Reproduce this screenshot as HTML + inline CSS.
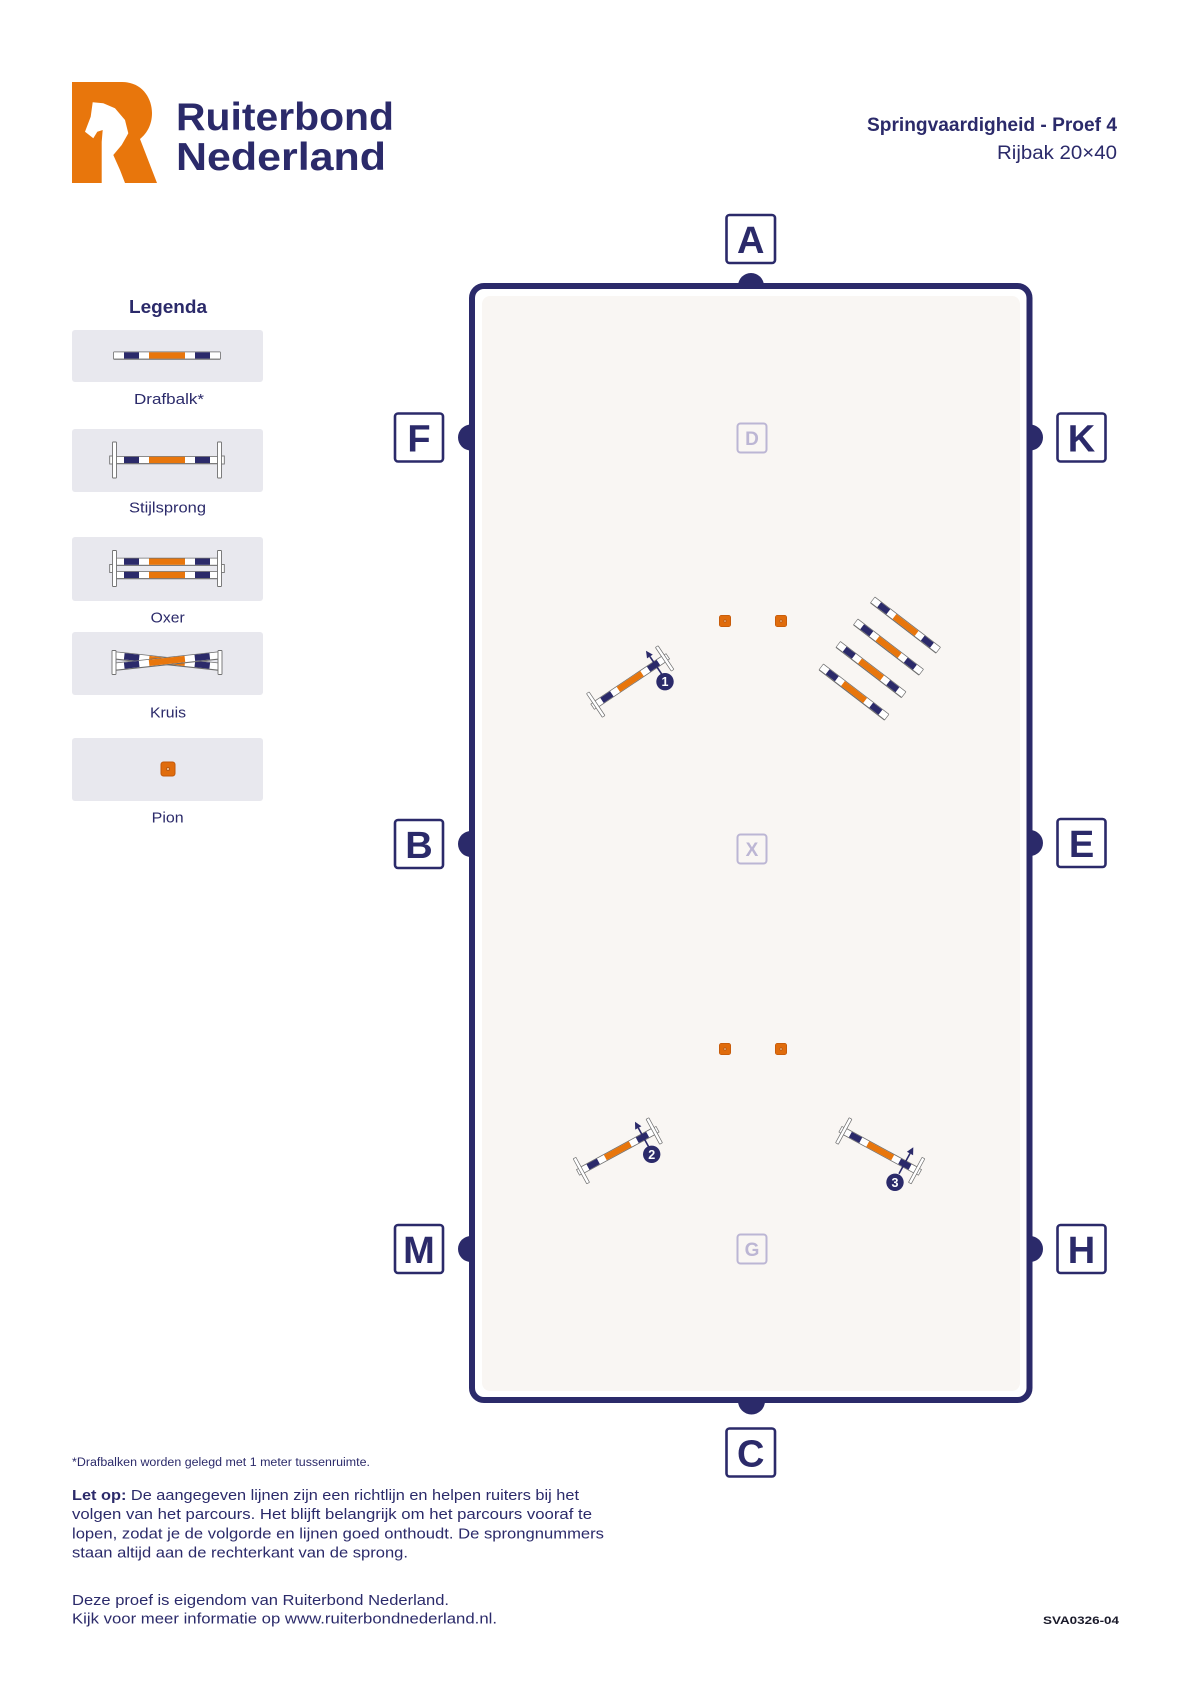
<!DOCTYPE html>
<html><head><meta charset="utf-8">
<style>
html,body{margin:0;padding:0;background:#fff;}
svg{display:block;}
text{font-family:"Liberation Sans",sans-serif;}
</style></head>
<body>
<svg width="1191" height="1684" viewBox="0 0 1191 1684" xmlns="http://www.w3.org/2000/svg">
<defs>
 <g id="pole">
  <rect x="-53.8" y="-4" width="107.6" height="8.2" rx="1" fill="#6d6d6d"/>
  <rect x="-53" y="-3.2" width="106" height="6.3" fill="#fff"/>
  <rect x="-43" y="-3.2" width="15" height="6.3" fill="#2b2a6a"/>
  <rect x="-18" y="-3.2" width="36" height="6.3" fill="#e8760c"/>
  <rect x="28" y="-3.2" width="15" height="6.3" fill="#2b2a6a"/>
 </g>
 <g id="jpole">
  <rect x="-54" y="-4.9" width="108" height="9.8" rx="1" fill="#6d6d6d"/>
  <rect x="-53" y="-3.9" width="106" height="7.8" fill="#fff"/>
  <rect x="-43" y="-3.9" width="15" height="7.8" fill="#2b2a6a"/>
  <rect x="-18" y="-3.9" width="36" height="7.8" fill="#e8760c"/>
  <rect x="28" y="-3.9" width="15" height="7.8" fill="#2b2a6a"/>
 </g>
 <g id="std">
  <rect x="-2" y="-18" width="4" height="36" rx="0.6" fill="#fff" stroke="#707070" stroke-width="0.9"/>
 </g>
 <g id="foot">
  <rect x="-1.8" y="-4" width="3.6" height="8" fill="#fff" stroke="#707070" stroke-width="0.9"/>
 </g>
 <g id="stijl">
  <use href="#jpole"/>
  <use href="#foot" x="-55.5"/>
  <use href="#foot" x="55.5"/>
  <use href="#std" x="-52.5"/>
  <use href="#std" x="52.5"/>
 </g>
 <g id="pion">
  <rect x="-5.6" y="-5.6" width="11.2" height="11.2" rx="2" fill="#e06c0c" stroke="#c2590a" stroke-width="0.8"/>
  <circle r="1.6" fill="#b95a12"/>
  <circle r="0.8" fill="#f8d2ac"/>
 </g>
</defs>

<!-- LOGO -->
<path d="M72,82 H122 C142,82 152,98 152,113 C152,126 146,134 140,139 L157,183 H72 Z" fill="#e8760c"/>
<path d="M92.7,102.3 L103.3,103.3 L115,108.3 L125,120 L128.3,133.3 L121.7,145 L113.3,155 L120,170 L125,183 L101.7,183 L101.7,141.7 L102.7,130 L97.3,131.7 L93.3,138.3 L85,131.7 L90.7,116.7 Z" fill="#fff"/>
<text x="176" y="130" font-size="39" font-weight="bold" fill="#2b2a6a" textLength="218" lengthAdjust="spacingAndGlyphs">Ruiterbond</text>
<text x="176" y="170" font-size="39" font-weight="bold" fill="#2b2a6a" textLength="210" lengthAdjust="spacingAndGlyphs">Nederland</text>

<!-- HEADER RIGHT -->
<text x="867" y="131" font-size="19" font-weight="bold" fill="#2b2a6a" textLength="250" lengthAdjust="spacingAndGlyphs">Springvaardigheid - Proef 4</text>
<text x="997" y="159" font-size="19" fill="#2b2a6a" textLength="120" lengthAdjust="spacingAndGlyphs">Rijbak 20×40</text>

<!-- LEGEND -->
<text x="129" y="313" font-size="18" font-weight="bold" fill="#2b2a6a" textLength="78" lengthAdjust="spacingAndGlyphs">Legenda</text>
<rect x="72" y="330" width="191" height="52" rx="3" fill="#e8e8ee"/>
<rect x="72" y="429" width="191" height="63" rx="3" fill="#e8e8ee"/>
<rect x="72" y="537" width="191" height="64" rx="3" fill="#e8e8ee"/>
<rect x="72" y="632" width="191" height="63" rx="3" fill="#e8e8ee"/>
<rect x="72" y="738" width="191" height="63" rx="3" fill="#e8e8ee"/>

<use href="#pole" transform="translate(167,355.5)"/>
<g transform="translate(167,460)">
 <use href="#pole"/>
 <use href="#foot" x="-55.5"/>
 <use href="#foot" x="55.5"/>
 <use href="#std" x="-52.5"/>
 <use href="#std" x="52.5"/>
</g>
<!-- oxer -->
<g transform="translate(167,568.5)">
 <use href="#pole" y="-6.8"/>
 <use href="#pole" y="6.5"/>
 <use href="#foot" x="-55.5"/>
 <use href="#foot" x="55.5"/>
 <use href="#std" x="-52.5"/>
 <use href="#std" x="52.5"/>
</g>
<!-- kruis -->
<g transform="translate(167,661)">
 <use href="#pole" transform="rotate(6.2)"/>
 <use href="#pole" transform="rotate(-6.2)"/>
 <rect x="-55" y="-10.5" width="4" height="24" rx="0.6" fill="#fff" stroke="#707070" stroke-width="0.9"/>
 <rect x="51" y="-10.5" width="4" height="24" rx="0.6" fill="#fff" stroke="#707070" stroke-width="0.9"/>
</g>
<use href="#pion" transform="translate(168,769) scale(1.25)"/>

<g font-size="15" fill="#2b2a6a">
 <text x="134" y="404" textLength="70" lengthAdjust="spacingAndGlyphs">Drafbalk*</text>
 <text x="129" y="512.7" textLength="77" lengthAdjust="spacingAndGlyphs">Stijlsprong</text>
 <text x="150.7" y="622.3" textLength="34" lengthAdjust="spacingAndGlyphs">Oxer</text>
 <text x="150" y="717.3" textLength="36" lengthAdjust="spacingAndGlyphs">Kruis</text>
 <text x="151.7" y="822.3" textLength="32" lengthAdjust="spacingAndGlyphs">Pion</text>
</g>

<!-- ARENA -->
<rect x="472" y="286" width="557.5" height="1114" rx="12" fill="#fff" stroke="#2b2a6a" stroke-width="6"/>
<rect x="482" y="296" width="538" height="1095" rx="8" fill="#f9f6f3"/>

<!-- dots -->
<g fill="#2b2a6a">
 <path d="M738,286 A13,13 0 0 1 764,286 Z"/>
 <path d="M738,1401 A13.5,13.5 0 0 0 765,1401 Z"/>
 <path d="M471,424.5 A13,13 0 0 0 471,450.5 Z"/>
 <path d="M471,831 A13,13 0 0 0 471,857 Z"/>
 <path d="M471,1236 A13,13 0 0 0 471,1262 Z"/>
 <path d="M1030,424.5 A13,13 0 0 1 1030,450.5 Z"/>
 <path d="M1030,830 A13,13 0 0 1 1030,856 Z"/>
 <path d="M1030,1236 A13,13 0 0 1 1030,1262 Z"/>
</g>

<!-- letter boxes -->
<g fill="#fff" stroke="#2b2a6a" stroke-width="2.6">
 <rect x="726.5" y="215" width="48.5" height="48" rx="3"/>
 <rect x="726.5" y="1428.5" width="48.5" height="48" rx="3"/>
 <rect x="395" y="413.5" width="48" height="48" rx="3"/>
 <rect x="395" y="820" width="48" height="48" rx="3"/>
 <rect x="395" y="1225" width="48" height="48" rx="3"/>
 <rect x="1057.5" y="413.5" width="48" height="48" rx="3"/>
 <rect x="1057.5" y="819" width="48" height="48" rx="3"/>
 <rect x="1057.5" y="1225" width="48" height="48" rx="3"/>
</g>
<g font-size="38" font-weight="bold" fill="#2b2a6a" text-anchor="middle">
 <text x="750.7" y="253">A</text>
 <text x="750.7" y="1466.5">C</text>
 <text x="419" y="451.5">F</text>
 <text x="419" y="858">B</text>
 <text x="419" y="1263">M</text>
 <text x="1081.5" y="451.5">K</text>
 <text x="1081.5" y="857">E</text>
 <text x="1081.5" y="1263">H</text>
</g>

<!-- inner letters -->
<g fill="none" stroke="#bcb6d4" stroke-width="2">
 <rect x="737.5" y="423.5" width="29" height="29" rx="3"/>
 <rect x="737.5" y="834.5" width="29" height="29" rx="3"/>
 <rect x="737.5" y="1234.5" width="29" height="29" rx="3"/>
</g>
<g font-size="19" font-weight="bold" fill="#bcb6d4" text-anchor="middle">
 <text x="752" y="445">D</text>
 <text x="752" y="856">X</text>
 <text x="752" y="1256">G</text>
</g>

<!-- pions -->
<use href="#pion" transform="translate(725,621)"/>
<use href="#pion" transform="translate(781,621)"/>
<use href="#pion" transform="translate(725,1049)"/>
<use href="#pion" transform="translate(781,1049)"/>

<!-- drafbalken -->
<use href="#pole" transform="translate(905.5,625) rotate(37.5) scale(0.774,1)"/>
<use href="#pole" transform="translate(888.5,647) rotate(37.5) scale(0.774,1)"/>
<use href="#pole" transform="translate(871,669.5) rotate(37.5) scale(0.774,1)"/>
<use href="#pole" transform="translate(854,692) rotate(37.5) scale(0.774,1)"/>

<!-- jumps -->
<use href="#stijl" transform="translate(630.2,681.5) rotate(-33.8) scale(0.79)"/>
<use href="#stijl" transform="translate(617.8,1150.8) rotate(-28.5) scale(0.79)"/>
<use href="#stijl" transform="translate(880.2,1150.8) rotate(28.5) scale(0.79)"/>

<!-- arrows -->
<g stroke="#2b2a6a" stroke-width="1.6" fill="none">
 <line x1="662.7" y1="675.6" x2="649.9" y2="656.5"/>
 <line x1="650.3" y1="1149.8" x2="638.3" y2="1127.9"/>
 <line x1="899" y1="1173.7" x2="910" y2="1153.5"/>
</g>
<g fill="#2b2a6a">
 <polygon points="646,650.7 652.8,654.6 647,658.4"/>
 <polygon points="635,1121.7 641.4,1126.2 635.2,1129.6"/>
 <polygon points="913.3,1147.3 913.1,1155.2 906.9,1151.8"/>
 <circle cx="665" cy="681.7" r="8.7"/>
 <circle cx="651.7" cy="1154.3" r="8.7"/>
 <circle cx="895" cy="1182.3" r="8.7"/>
</g>
<g font-size="12.5" font-weight="bold" fill="#fff" text-anchor="middle">
 <text x="665" y="686.2">1</text>
 <text x="651.7" y="1158.8">2</text>
 <text x="895" y="1186.8">3</text>
</g>

<!-- BOTTOM TEXT -->
<text x="72" y="1466" font-size="11.5" fill="#2b2a6a" textLength="298" lengthAdjust="spacingAndGlyphs">*Drafbalken worden gelegd met 1 meter tussenruimte.</text>
<g font-size="15" fill="#2b2a6a">
 <text x="72" y="1500" textLength="507" lengthAdjust="spacingAndGlyphs"><tspan font-weight="bold">Let op:</tspan> De aangegeven lijnen zijn een richtlijn en helpen ruiters bij het</text>
 <text x="72" y="1519" textLength="520" lengthAdjust="spacingAndGlyphs">volgen van het parcours. Het blijft belangrijk om het parcours vooraf te</text>
 <text x="72" y="1538.3" textLength="532" lengthAdjust="spacingAndGlyphs">lopen, zodat je de volgorde en lijnen goed onthoudt. De sprongnummers</text>
 <text x="72" y="1557.3" textLength="336" lengthAdjust="spacingAndGlyphs">staan altijd aan de rechterkant van de sprong.</text>
 <text x="72" y="1605" textLength="377" lengthAdjust="spacingAndGlyphs">Deze proef is eigendom van Ruiterbond Nederland.</text>
 <text x="72" y="1623.3" textLength="425" lengthAdjust="spacingAndGlyphs">Kijk voor meer informatie op www.ruiterbondnederland.nl.</text>
</g>
<text x="1043" y="1624" font-size="11" font-weight="bold" fill="#1a1a2a" textLength="76" lengthAdjust="spacingAndGlyphs">SVA0326-04</text>
</svg>
</body></html>
